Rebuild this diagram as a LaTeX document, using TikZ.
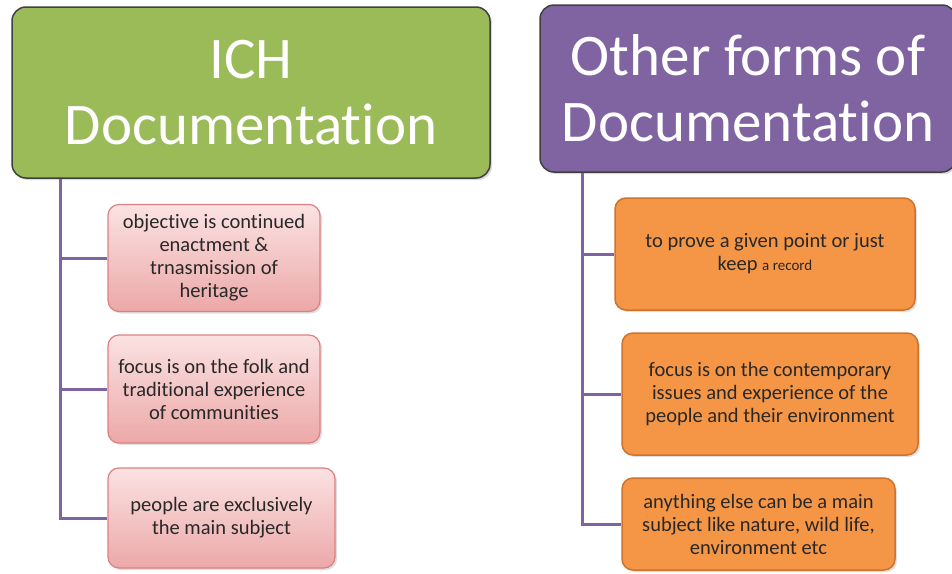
\documentclass[tikz,border=0pt]{standalone}
\usepackage{fontspec}
\setmainfont{Carlito}[Ligatures={NoCommon}]
\usepackage{xcolor}
\usepackage{tikz}
\usetikzlibrary{positioning, shadows}

\definecolor{ichgreen}{RGB}{155,187,89}
\definecolor{otherpurple}{RGB}{128,100,162}
\definecolor{pinktop}{RGB}{251,226,226}
\definecolor{pinkbot}{RGB}{236,168,168}
\definecolor{pinkline}{RGB}{222,128,128}
\definecolor{orangefill}{RGB}{245,150,70}
\definecolor{orangeline}{RGB}{205,115,45}
\definecolor{textgray}{RGB}{40,40,40}

\begin{document}
\begin{tikzpicture}[x=1pt, y=-1pt,
    header/.style={draw=black!75, line width=1.5pt, rounded corners=14pt,
      text=white, align=center, font=\fontsize{59}{66}\selectfont,
      drop shadow={opacity=0.3, shadow xshift=2pt, shadow yshift=-2pt}},
    ichbox/.style={draw=pinkline, line width=1.2pt, rounded corners=11pt,
      top color=pinktop, bottom color=pinkbot, text=textgray, align=center,
      font=\fontsize{20.5}{23}\selectfont,
      drop shadow={opacity=0.25, shadow xshift=2pt, shadow yshift=-2pt}},
    otherbox/.style={draw=orangeline, line width=1.5pt, rounded corners=11pt,
      fill=orangefill, text=textgray, align=center,
      font=\fontsize{20.5}{23}\selectfont,
      drop shadow={opacity=0.25, shadow xshift=2pt, shadow yshift=-2pt}},
    link/.style={draw=otherpurple, line width=3pt}]
  \useasboundingbox (0,0) rectangle (952,573);

  % Headers
  \node[header, fill=ichgreen, minimum width=478pt, minimum height=171pt] (ich) at (251,92.5)
    {ICH\\Documentation};
  \node[header, fill=otherpurple, minimum width=416pt, minimum height=167pt] (other) at (748,88.5)
    {Other forms of\\Documentation};

  % ICH documentation points
  \node[ichbox, minimum width=212pt, minimum height=107pt] (ich1) at (214,258)
    {objective is continued\\enactment \&\\trnasmission of\\heritage};
  \node[ichbox, minimum width=212pt, minimum height=108pt] (ich2) at (214,389)
    {focus is on the folk and\\traditional experience\\of communities};
  \node[ichbox, minimum width=227pt, minimum height=100pt] (ich3) at (221.5,518)
    {people are exclusively\\the main subject};

  % Other documentation points
  \node[otherbox, minimum width=300pt, minimum height=112pt] (other1) at (765,254)
    {to prove a given point or just\\keep {\fontsize{15}{18}\selectfont a record}};
  \node[otherbox, minimum width=296pt, minimum height=122pt] (other2) at (770,394)
    {focus is on the contemporary\\issues and experience of the\\people and their environment};
  \node[otherbox, minimum width=273pt, minimum height=92pt] (other3) at (758.5,524)
    {anything else can be a main\\subject like nature, wild life,\\environment etc};

  % Connectors
  \coordinate (spineL) at (60,0);
  \coordinate (spineR) at (582,0);
  \foreach \n in {ich1,ich2,ich3}
    \draw[link] (ich.south -| spineL) |- (\n.west);
  \foreach \n in {other1,other2,other3}
    \draw[link] (other.south -| spineR) |- (\n.west);
\end{tikzpicture}
\end{document}
